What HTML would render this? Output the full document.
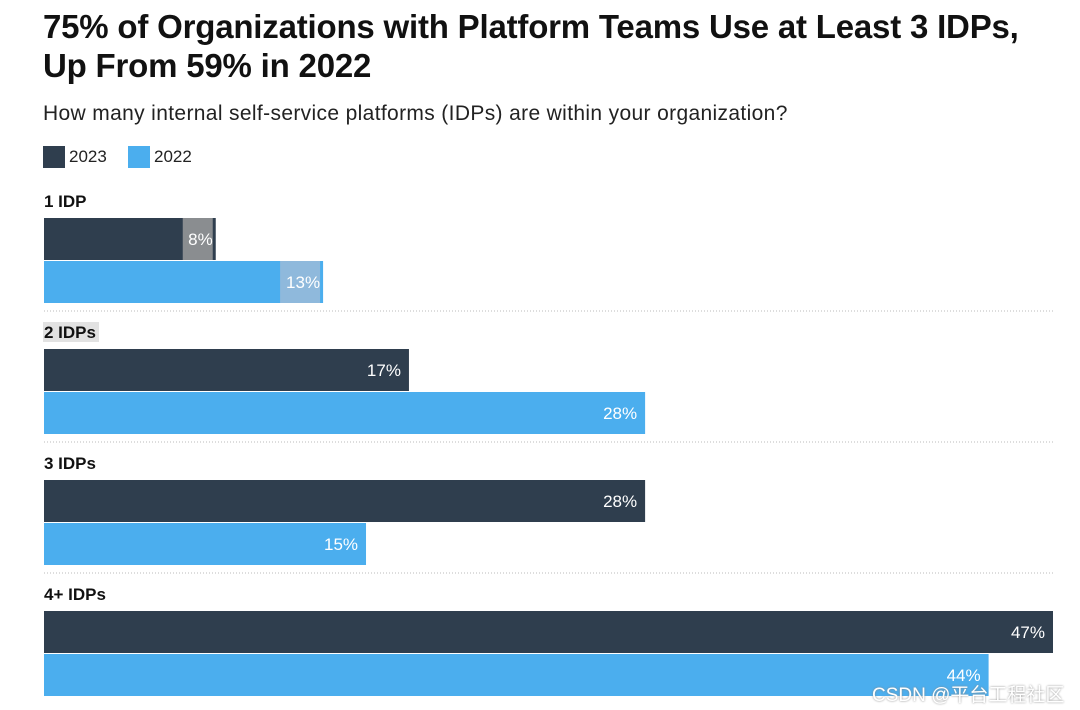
<!DOCTYPE html>
<html><head><meta charset="utf-8"><style>
body{margin:0;width:1080px;height:710px;background:#fff;font-family:"Liberation Sans",Arial,sans-serif;overflow:hidden;position:relative}
.t{position:absolute;left:43px;top:7px;font-size:33px;font-weight:bold;line-height:39px;color:#111;letter-spacing:-0.2px;white-space:nowrap}
.s{position:absolute;left:43px;top:102px;font-size:21px;color:#222;letter-spacing:0.35px}
.lg{position:absolute;top:146px;font-size:17px;color:#222;display:flex;align-items:center}
.lg i{display:inline-block;width:22px;height:22px;margin-right:4px}
.wm{position:absolute;left:872px;top:680px;font-size:19px;color:#fff;text-shadow:0 0 2px #888;font-family:"Liberation Sans","Noto Sans CJK SC",sans-serif;white-space:nowrap}
</style></head><body>
<div class="t">75% of Organizations with Platform Teams Use at Least 3 IDPs,<br>Up From 59% in 2022</div>
<div class="s">How many internal self-service platforms (IDPs) are within your organization?</div>
<div class="lg" style="left:43px"><i style="background:#2f3e4e"></i>2023</div>
<div class="lg" style="left:128px"><i style="background:#4baeee"></i>2022</div>
<svg id="c" width="1080" height="710" style="position:absolute;left:0;top:0"></svg>
<div class="wm">CSDN @平台工程社区</div>
<script>
const categories=["1 IDP","2 IDPs","3 IDPs","4+ IDPs"];
const values2023=[8,17,28,47];
const values2022=[13,28,15,44];
const labels2023=["8%","17%","28%","47%"];
const labels2022=["13%","28%","15%","44%"];
const x0=44, pxPer=(1053-44)/47;
const xs=v=>x0+v*pxPer;
const groupTop=i=>190+i*131;
const svg=document.getElementById('c');
const NS="http://www.w3.org/2000/svg";
function mk(t,a){const e=document.createElementNS(NS,t);for(const k in a)e.setAttribute(k,a[k]);svg.appendChild(e);return e;}
categories.forEach((c,i)=>{
  const g=groupTop(i);
  if(i>0){const l=mk('line',{x1:44,x2:1054,y1:g-10,y2:g-10,stroke:'#bbb','stroke-dasharray':'1 2'});
    
    }
  if(i===1){const hb=mk('rect',{x:43,y:g+1,width:56,height:20,fill:'#e2e2e2'});
    
    }
  const lt=mk('text',{x:44,y:g+17,'font-size':17,'font-weight':'bold',fill:'#111'});lt.textContent=c;
  
  
  [[values2023,labels2023,'#2f3e4e',g+28],[values2022,labels2022,'#4baeee',g+71]].forEach(([vals,labs,col,y],s)=>{
    const w=xs(vals[i])-x0;
    const r=mk('rect',{x:x0,y:y,width:w,height:42,fill:col});
    
    
    const small=vals[i]<14;
    if(small){const b=mk('rect',{x:xs(vals[i])-(s===0?33:43),y:y,width:s===0?30:40,height:42,fill:s===0?'#8a8d90':'#8fb9dc'});
      
      }
    const tx=mk('text',{x:xs(vals[i])-(small?3:8),y:y+27,'font-size':17,fill:'#fff','text-anchor':'end'});
    tx.textContent=labs[i];
    
    
  });
});
</script>
</body></html>
